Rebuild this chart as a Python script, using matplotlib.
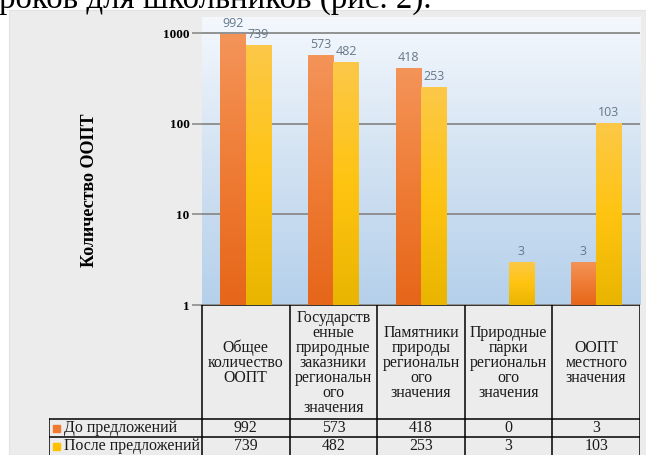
import numpy as np
import matplotlib.pyplot as plt
from matplotlib.patches import Rectangle
from matplotlib.colors import LinearSegmentedColormap

# Данные диаграммы
categories = ['Общее\nколичество\nООПТ',
              'Государств\nенные\nприродные\nзаказники\nрегиональн\nого\nзначения',
              'Памятники\nприроды\nрегиональн\nого\nзначения',
              'Природные\nпарки\nрегиональн\nого\nзначения',
              'ООПТ\nместного\nзначения']
do_predl = [992, 573, 418, 0, 3]
posle_predl = [739, 482, 253, 3, 103]
series_names = ['До предложений', 'После предложений']
yticks = [1, 10, 100, 1000]
ylabel = 'Количество ООПТ'
top_text = 'роков для школьников (рис. 2).'

W, H = 646, 455
def fx(x): return x / W
def fy(y): return 1 - y / H

fig = plt.figure(figsize=(6.46, 4.55), dpi=100)
fig.patch.set_facecolor('white')

# кусок текста документа сверху
fig.text(fx(-1), fy(7.5), top_text, family='Liberation Serif', fontsize=23.7,
         va='baseline', ha='left', color='black')

# серый фон диаграммы
fig.patches.append(Rectangle((fx(9), 0), fx(646) - fx(9), fy(10), transform=fig.transFigure,
                             facecolor='#ececec', edgecolor='#e2e2e2', lw=0.8, zorder=0))

rect = [fx(202), fy(305), fx(640) - fx(202), fy(17) - fy(305)]

# фон области построения (градиент)
bg = fig.add_axes(rect, zorder=1)
bg_cmap = LinearSegmentedColormap.from_list('bg', ['#b5d0eb', '#d2e2f2', '#f4f8fd'])
bg.imshow(np.linspace(0, 1, 256).reshape(-1, 1), cmap=bg_cmap, aspect='auto',
          extent=(0, 1, 0, 1), origin='lower')
bg.axis('off')

ax = fig.add_axes(rect, zorder=2)
ax.set_facecolor('none')
ax.set_yscale('log')
ymax = 1520
ax.set_ylim(1, ymax)
ax.set_xlim(-0.5, len(categories) - 0.5)
ax.set_autoscale_on(False)

x = np.arange(len(categories))
w = 0.29
orange = LinearSegmentedColormap.from_list('o', ['#e6661a', '#ef7c35', '#f49459'])
yellow = LinearSegmentedColormap.from_list('y', ['#e9b500', '#ffc411', '#fcc848'])

def grad_bars(xs, vals, cmap, solid):
    bars = ax.bar(xs, vals, w, color=solid, zorder=3)
    for b, v in zip(bars, vals):
        if v <= 0:
            continue
        x0 = (b.get_x() + 0.5) / len(categories)
        x1 = (b.get_x() + b.get_width() + 0.5) / len(categories)
        y1 = np.log10(v) / np.log10(ymax)
        im = ax.imshow(np.linspace(0, 1, 128).reshape(-1, 1), cmap=cmap, aspect='auto',
                       extent=(x0, x1, 0, y1), origin='lower', transform=ax.transAxes,
                       zorder=4)
        im.set_clip_path(b)
        ax.annotate(str(v), (b.get_x() + b.get_width() / 2, v), xytext=(0, 3),
                    textcoords='offset points', ha='center', va='bottom',
                    fontsize=9, family='Open Sans', color='#66778a', zorder=5)
    return bars

grad_bars(x - w / 2, do_predl, orange, '#ef7a30')
grad_bars(x + w / 2, posle_predl, yellow, '#ffc000')

ax.set_yticks(yticks)
ax.set_yticklabels([str(t) for t in yticks], family='Liberation Serif', fontweight='bold',
                   fontsize=9.5)
ax.yaxis.set_minor_locator(plt.NullLocator())
ax.tick_params(axis='y', length=7, width=1.2, color='#8c8c8c', pad=2)
ax.set_xticks([])
ax.grid(axis='y', color='#8a8a8a', lw=1.3, zorder=2)
ax.set_axisbelow(True)
for s in ax.spines.values():
    s.set_visible(False)

fig.text(fx(90), fy(190), ylabel, rotation=90, ha='center', va='center',
         family='Liberation Serif', fontweight='bold', fontsize=13)

# таблица данных под диаграммой
tab = fig.add_axes([fx(49), fy(475), fx(640) - fx(49), fy(305) - fy(475)], zorder=3)
tab.set_xlim(49, 640)
tab.set_ylim(475, 305)
tab.axis('off')
col_w = (640 - 202) / len(categories)
cols = [202 + i * col_w for i in range(len(categories) + 1)]
rows = [305, 419, 437, 456]
lk = dict(color='black', lw=1.1, solid_capstyle='projecting')
for c in cols:
    tab.plot([c, c], [rows[0], rows[-1]], **lk)
tab.plot([49, 49], [rows[1], rows[-1]], **lk)
tab.plot([202, 640], [rows[0], rows[0]], **lk)
for r in rows[1:]:
    tab.plot([49, 640], [r, r], **lk)

tfont = dict(family='Liberation Serif', fontsize=11.4, color='#1a1a1a')
for i, cat in enumerate(categories):
    tab.text(cols[i] + col_w / 2, (rows[0] + rows[1]) / 2 + 1, cat, ha='center',
             va='center', linespacing=0.93, **tfont)
for j, (name, vals, col) in enumerate(zip(series_names, [do_predl, posle_predl],
                                          ['#ef7a30', '#ffc000'])):
    yc = (rows[j + 1] + rows[j + 2]) / 2
    tab.add_patch(Rectangle((53, yc - 3.5), 7, 7, color=col))
    tab.text(64, yc, name, ha='left', va='center', **tfont)
    for i, v in enumerate(vals):
        tab.text(cols[i] + col_w / 2, yc, str(v), ha='center', va='center', **tfont)

fig.savefig('out.png', dpi=100)
